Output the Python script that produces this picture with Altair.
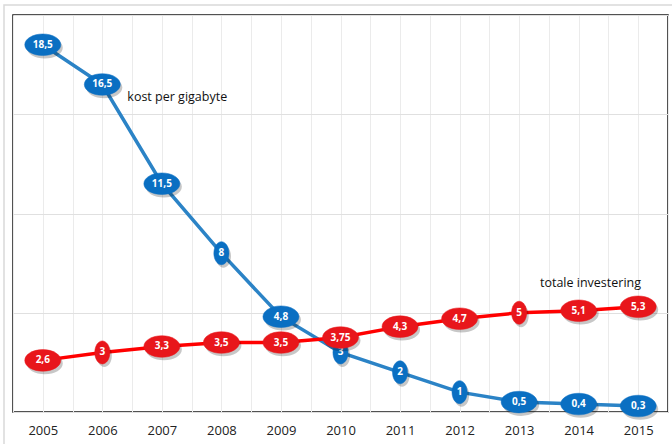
import altair as alt
import pandas as pd

years = [2005, 2006, 2007, 2008, 2009, 2010, 2011, 2012, 2013, 2014, 2015]
kost = [18.5, 16.5, 11.5, 8, 4.8, 3, 2, 1, 0.5, 0.4, 0.3]
investering = [2.6, 3, 3.3, 3.5, 3.5, 3.75, 4.3, 4.7, 5, 5.1, 5.3]
series_names = ["kost per gigabyte", "totale investering"]

rows = []
for name, vals in zip(series_names, [kost, investering]):
    for y, v in zip(years, vals):
        lab = f"{v:g}".replace(".", ",")
        rows.append({"serie": name, "jaar": y, "waarde": v, "label": lab,
                     "vorm": "smal" if len(lab) == 1 else "breed"})
df = pd.DataFrame(rows)
one = pd.DataFrame({"k": [0]})

WIDE = "M-1,0A1,0.6,0,1,1,1,0A1,0.6,0,1,1,-1,0Z"
NARROW = "M-0.42,0A0.42,0.64,0,1,1,0.42,0A0.42,0.64,0,1,1,-0.42,0Z"

FONT = "Open Sans"

half_years = [2004.5 + 0.5 * i for i in range(23)]
xscale = alt.Scale(domain=[2004.5, 2015.5], nice=False, zero=False)

x_grid = alt.X("jaar:Q", scale=xscale,
               axis=alt.Axis(values=half_years, grid=True, gridColor="#ebebeb", gridWidth=1,
                             ticks=False, domain=False, labels=False, title=None))
x_lab = alt.X("jaar:Q", scale=xscale,
              axis=alt.Axis(values=years, grid=False, ticks=False, domain=False,
                            orient="bottom", labelPadding=12, labelOverlap=False,
                            format="d", labelFont=FONT, labelFontSize=13,
                            labelColor="#222", title=None))
y_enc = alt.Y("waarde:Q", scale=alt.Scale(domain=[0, 20], nice=False),
              axis=alt.Axis(values=[0, 5, 10, 15, 20], grid=True, gridColor="#e0e0e0",
                            labels=False, ticks=False, domain=False, title=None))

shape_enc = alt.Shape("vorm:N", scale=alt.Scale(domain=["breed", "smal"], range=[WIDE, NARROW]),
                      legend=None)

colors = {"kost per gigabyte": ("#2b83c6", "#0a6fc2"),
          "totale investering": ("#ff0000", "#e8161b")}

outer = alt.Chart(one).mark_rect(fill=None, stroke="#d9d9d9", strokeWidth=1.5).encode(
    x=alt.value(-9), x2=alt.value(700), y=alt.value(-10), y2=alt.value(460))

grid_layer = alt.Chart(df).mark_line(opacity=0).encode(x=x_grid, y=y_enc, detail="serie:N")

marks = []
for name in series_names:
    line_col, pt_col = colors[name]
    b = alt.Chart(df).encode(x=x_lab, y=y_enc).transform_filter(alt.datum.serie == name)
    marks.append(b.mark_line(color=line_col, strokeWidth=3.5))
    marks.append(b.mark_point(filled=True, color="#000", opacity=0.22, size=1296,
                              xOffset=2, yOffset=3).encode(shape=shape_enc))
    marks.append(b.mark_point(filled=True, color=pt_col, opacity=1, size=1296,
                              stroke=pt_col, strokeWidth=0.5).encode(shape=shape_enc))
    marks.append(b.mark_text(color="white", font=FONT, fontWeight="bold", fontSize=10,
                             baseline="middle", align="center").encode(text="label:N"))

ann1 = alt.Chart(one).mark_text(text="kost per gigabyte", font=FONT, fontSize=12.5,
                                align="left", baseline="middle", color="#111").encode(
    x=alt.datum(2006.42), y=alt.datum(15.87))
ann2 = alt.Chart(one).mark_text(text="totale investering", font=FONT, fontSize=12.5,
                                align="left", baseline="middle", color="#111").encode(
    x=alt.datum(2013.35), y=alt.datum(6.5))

data_layer = alt.layer(*marks, ann1, ann2)

chart = alt.layer(outer, grid_layer, data_layer).resolve_axis(x="independent").properties(
    width=655, height=397,
    autosize=alt.AutoSizeParams(type="none"),
    padding={"left": 13, "top": 15, "right": 4, "bottom": 32},
    background="white",
).configure_view(stroke="#1a1a1a", strokeWidth=1.5)

chart.save("out.html", embed_options={"renderer": "svg", "actions": False})
